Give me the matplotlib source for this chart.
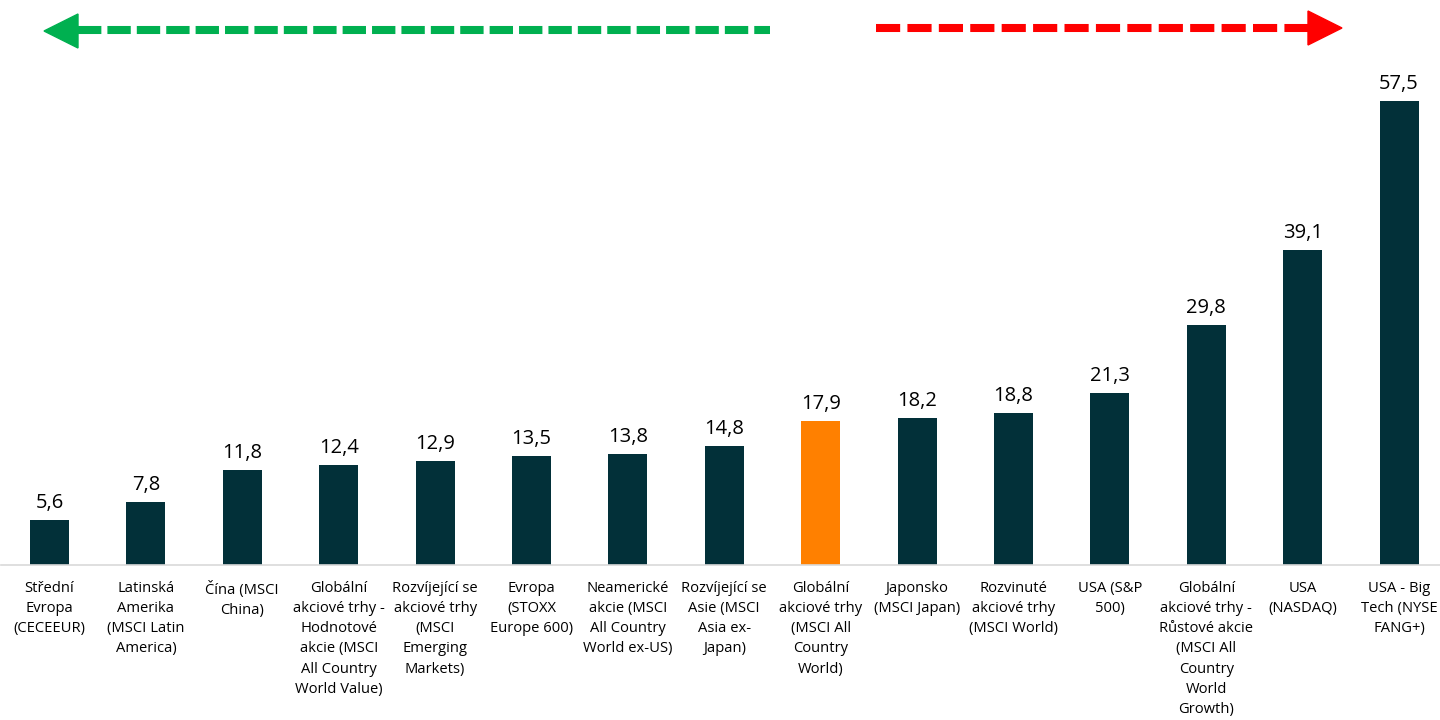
import matplotlib
matplotlib.use("Agg")
import matplotlib.pyplot as plt
from matplotlib.patches import Polygon
from matplotlib.lines import Line2D

categories = [
    "Střední\nEvropa\n(CECEEUR)",
    "Latinská\nAmerika\n(MSCI Latin\nAmerica)",
    "Čína (MSCI\nChina)",
    "Globální\nakciové trhy -\nHodnotové\nakcie (MSCI\nAll Country\nWorld Value)",
    "Rozvíjející se\nakciové trhy\n(MSCI\nEmerging\nMarkets)",
    "Evropa\n(STOXX\nEurope 600)",
    "Neamerické\nakcie (MSCI\nAll Country\nWorld ex-US)",
    "Rozvíjející se\nAsie (MSCI\nAsia ex-\nJapan)",
    "Globální\nakciové trhy\n(MSCI All\nCountry\nWorld)",
    "Japonsko\n(MSCI Japan)",
    "Rozvinuté\nakciové trhy\n(MSCI World)",
    "USA (S&P\n500)",
    "Globální\nakciové trhy -\nRůstové akcie\n(MSCI All\nCountry\nWorld\nGrowth)",
    "USA\n(NASDAQ)",
    "USA - Big\nTech (NYSE\nFANG+)",
]
values = [5.6, 7.8, 11.8, 12.4, 12.9, 13.5, 13.8, 14.8, 17.9, 18.2, 18.8, 21.3, 29.8, 39.1, 57.5]
highlight = "Globální\nakciové trhy\n(MSCI All\nCountry\nWorld)"

DARK = "#023039"
ORANGE = "#FF8000"
colors = [ORANGE if c == highlight else DARK for c in categories]

FONT = ["Open Sans", "DejaVu Sans"]
plt.rcParams["font.family"] = FONT

W, H = 1440, 720
fig = plt.figure(figsize=(14.4, 7.2), dpi=100)
ax = fig.add_axes([1.3 / W, (H - 565) / H, 1446 / W, 484 / H])
x = list(range(len(categories)))
ax.bar(x, values, width=0.405, color=colors, zorder=2)
ax.set_xlim(-0.5, len(categories) - 0.5)
ax.set_ylim(0, 60)
for xi, v in zip(x, values):
    ax.annotate(f"{v:.1f}".replace(".", ","), (xi, v), xytext=(0, 5),
                textcoords="offset points", ha="center", va="bottom",
                fontsize=14.5, color="#000000")
ax.set_xticks(x)
ax.set_xticklabels(categories, fontsize=10.6, linespacing=1.47, color="#000000")
ax.tick_params(axis="x", length=0, pad=11.5)
ax.set_yticks([])
for s in ["top", "right", "left"]:
    ax.spines[s].set_visible(False)
ax.spines["bottom"].set_color("#D9D9D9")
ax.spines["bottom"].set_linewidth(1.2)

# arrows (figure pixel coords -> fraction)
def fx(px):
    return px / W

def fy(py):
    return (H - py) / H

GREEN = "#00B050"
RED = "#FF0000"
lw = 5.8
fig.add_artist(Line2D([fx(78), fx(770)], [fy(30), fy(30)], color=GREEN, lw=lw,
                      linestyle=(0, (2.9, 0.75)), solid_capstyle="butt",
                      dash_capstyle="butt"))
fig.add_artist(Polygon([[fx(44), fy(31)], [fx(78), fy(14)], [fx(78), fy(48)]],
                       closed=True, color=GREEN, transform=fig.transFigure))
fig.add_artist(Line2D([fx(876), fx(1312)], [fy(28), fy(28)], color=RED, lw=lw,
                      linestyle=(0, (3.0, 0.9)), solid_capstyle="butt",
                      dash_capstyle="butt"))
fig.add_artist(Polygon([[fx(1342), fy(28)], [fx(1308), fy(11)], [fx(1308), fy(45)]],
                       closed=True, color=RED, transform=fig.transFigure))

fig.savefig("out.png", dpi=100)
